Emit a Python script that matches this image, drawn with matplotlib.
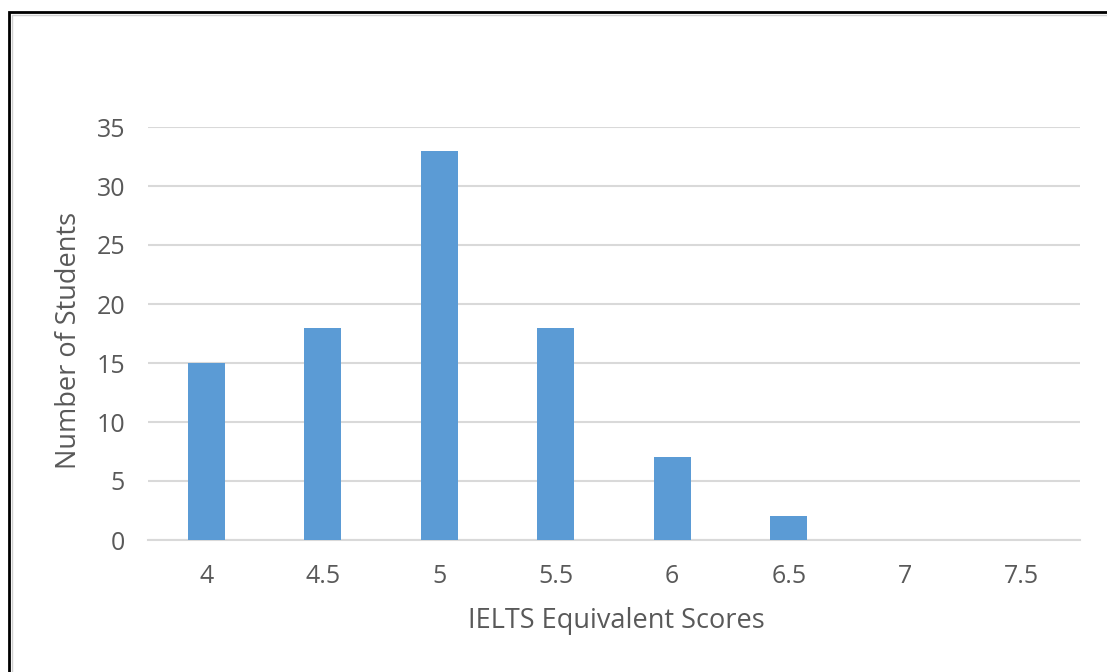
import matplotlib
matplotlib.use("Agg")
import matplotlib.pyplot as plt
from matplotlib.patches import Rectangle

categories = ["4", "4.5", "5", "5.5", "6", "6.5", "7", "7.5"]
students = [15, 18, 33, 18, 7, 2, 0, 0]
y_ticks = [0, 5, 10, 15, 20, 25, 30, 35]

W, H = 1107, 672
fig = plt.figure(figsize=(W / 100, H / 100), dpi=100)
fig.patch.set_facecolor("white")

font = "Open Sans"
txt = "#595959"

ax = fig.add_axes([148 / W, 1 - 540 / H, (1080 - 148) / W, (540 - 127) / H])
x = list(range(len(categories)))
ax.bar(x, students, width=0.32, color="#5B9BD5", zorder=3)
ax.set_xlim(-0.5, len(categories) - 0.5)
ax.set_ylim(0, 35)
ax.set_yticks(y_ticks)
ax.set_xticks(x)
ax.set_xticklabels(categories)
ax.yaxis.grid(True, color="#D9D9D9", linewidth=1.5, zorder=0)
ax.set_axisbelow(True)
for s in ["top", "right", "left"]:
    ax.spines[s].set_visible(False)
ax.spines["bottom"].set_color("#D9D9D9")
ax.spines["bottom"].set_linewidth(1.5)
ax.tick_params(length=0, labelsize=18, labelcolor=txt)
ax.tick_params(axis="x", pad=17)
ax.tick_params(axis="y", pad=16.5)
for lab in ax.get_xticklabels() + ax.get_yticklabels():
    lab.set_fontfamily(font)

fig.text(616 / W, 1 - 621 / H, "IELTS Equivalent Scores", fontsize=19.5, color=txt,
         fontfamily=font, ha="center", va="center")
fig.text(69 / W, 1 - 340 / H, "Number of Students", fontsize=19.5, color=txt,
         fontfamily=font, ha="center", va="center", rotation=90)

# outer frame (cropped at right and bottom)
fig.patches.append(Rectangle((9 / W, -0.1), 1.2, 1 - 12 / H + 0.1, transform=fig.transFigure,
                             fill=False, edgecolor="black", linewidth=2.0, zorder=10))
fig.patches.append(Rectangle((12 / W, -0.1), 1.2, 1 - 15 / H + 0.1, transform=fig.transFigure,
                             fill=False, edgecolor="#D0D0D0", linewidth=1.0, zorder=10))

fig.savefig("out.png", dpi=100)
